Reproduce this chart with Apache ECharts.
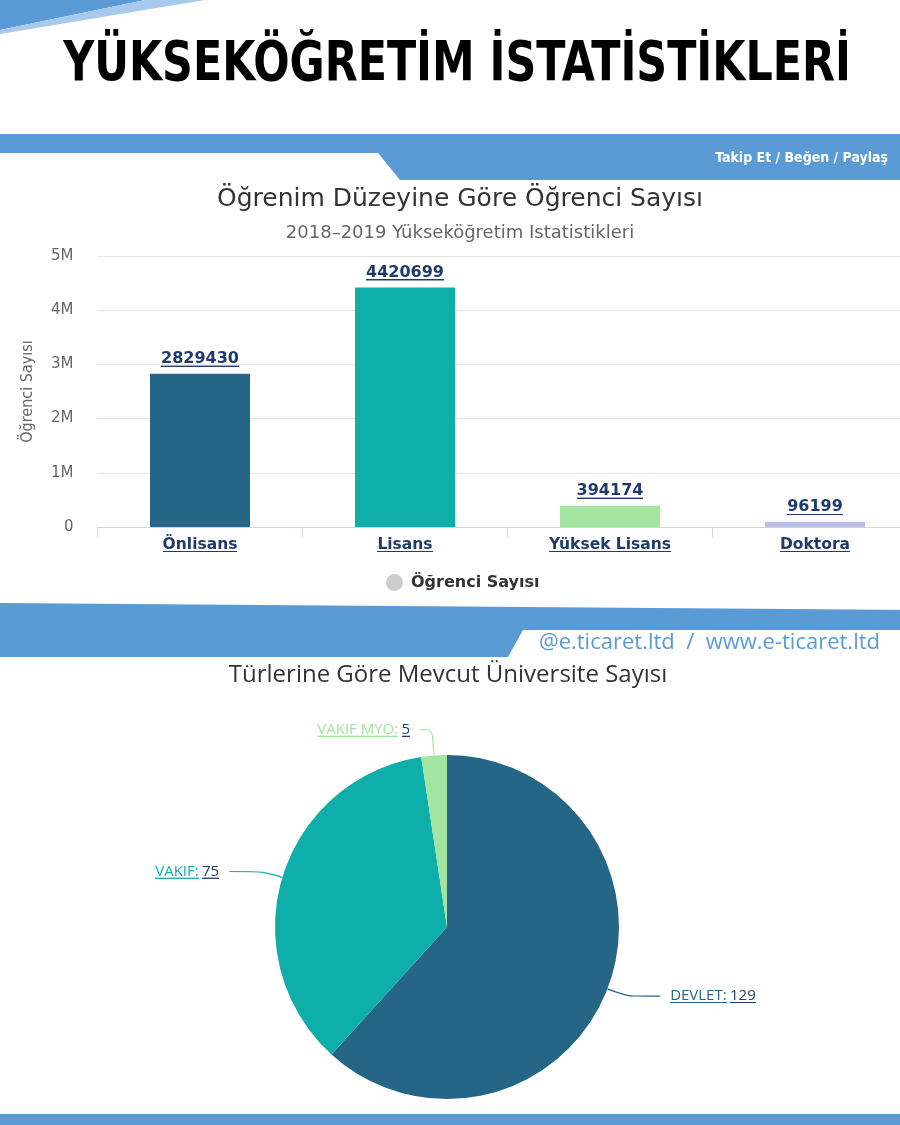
<!DOCTYPE html>
<html>
<head>
<meta charset="utf-8">
<script src="https://cdn.jsdelivr.net/npm/echarts@6/dist/echarts.min.js"></script>
<style>
html,body{margin:0;padding:0;background:#fff;overflow:hidden;width:900px;height:1125px;}
#wrap{width:900px;height:1125px;overflow:hidden;position:relative;}
#c{width:920px;height:1125px;position:absolute;left:0;top:0;}
</style>
</head>
<body>
<div id="wrap"><div id="c"></div></div>
<script>
// ---- data ----
const mainTitle = 'YÜKSEKÖĞRETİM İSTATİSTİKLERİ';
const barTitle = 'Öğrenim Düzeyine Göre Öğrenci Sayısı';
const barSubtitle = '2018–2019 Yükseköğretim Istatistikleri';
const barSeriesName = 'Öğrenci Sayısı';
const levels = ['Önlisans', 'Lisans', 'Yüksek Lisans', 'Doktora'];
const students = [2829430, 4420699, 394174, 96199];
const barColors = ['#256686', '#0eafaa', '#a3e4a0', '#bcbee8'];
const yTicks = [0, 1000000, 2000000, 3000000, 4000000, 5000000];
const yTickLabels = ['0', '1M', '2M', '3M', '4M', '5M'];

const pieTitle = 'Türlerine Göre Mevcut Üniversite Sayısı';
const uniTypes = ['DEVLET', 'VAKIF', 'VAKIF MYO'];
const uniCounts = [129, 75, 5];
const pieColors = ['#256686', '#0eafaa', '#a3e4a0'];

const followText = 'Takip Et / Beğen / Paylaş';
const siteText = '@e.ticaret.ltd  /  www.e-ticaret.ltd';

// ---- helpers ----
function underline(color) {
  const c = document.createElement('canvas');
  c.width = 4; c.height = 40;
  const ctx = c.getContext('2d');
  ctx.fillStyle = color;
  ctx.fillRect(0, 36, 4, 3);
  return c;
}
const navy = '#1f3a6b';
const ulNavy = underline(navy);

const chart = echarts.init(document.getElementById('c'), null, {renderer: 'canvas'});
const band = '#5b9bd5';
const W = 920;

const option = {
  backgroundColor: '#ffffff',
  animation: false,
  title: [
    {text: barTitle, left: 'center', top: 182,
     textStyle: {fontFamily: '"DejaVu Sans", sans-serif', fontWeight: 'normal', fontSize: 25, color: '#333'}},
    {text: barSubtitle, left: 'center', top: 219,
     textStyle: {fontFamily: '"DejaVu Sans", sans-serif', fontWeight: 'normal', fontSize: 18, color: '#666'}}
  ],
  graphic: [
    {type: 'polygon', shape: {points: [[0,0],[145,0],[0,30]]}, style: {fill: band}, z: 1},
    {type: 'polygon', shape: {points: [[145,0],[205,0],[0,34],[0,30]]}, style: {fill: '#a9c9ec'}, z: 1},
    {type: 'text', x: 457, y: 66, scaleX: 0.865, scaleY: 1, z: 2,
     style: {text: mainTitle, x: 0, y: 0, align: 'center', verticalAlign: 'middle', fill: '#000',
             font: 'bold 55px "DejaVu Sans Condensed", "DejaVu Sans", sans-serif'}},
    {type: 'polygon', shape: {points: [[0,134],[W,134],[W,180],[400,180],[378,153],[0,153]]}, style: {fill: band}, z: 1},
    {type: 'text', x: 888, y: 158, z: 2,
     style: {text: followText, x: 0, y: 0, align: 'right', verticalAlign: 'middle', fill: '#fff',
             font: 'bold 14px "DejaVu Sans Condensed", sans-serif'}},
    {type: 'polygon', shape: {points: [[0,603],[W,610],[W,630],[523,630],[508,657],[0,657]]}, style: {fill: band}, z: 1},
    {type: 'text', x: 880, y: 643, z: 2,
     style: {text: siteText, x: 0, y: 0, align: 'right', verticalAlign: 'middle', fill: band,
             font: '22px "Open Sans", sans-serif'}},
    {type: 'text', x: 448, y: 675, z: 2,
     style: {text: pieTitle, x: 0, y: 0, align: 'center', verticalAlign: 'middle', fill: '#333',
             font: '24px "Open Sans", sans-serif'}},
    {type: 'rect', shape: {x: 0, y: 1114, width: W, height: 11}, style: {fill: band}, z: 1}
  ],
  legend: {
    data: [barSeriesName], left: 381, top: 569, icon: 'circle', itemWidth: 17, itemHeight: 17, itemGap: 8,
    itemStyle: {color: '#cccccc'},
    textStyle: {fontFamily: '"DejaVu Sans", sans-serif', fontSize: 16, fontWeight: 'bold', color: '#333', padding: [0,0,0,3]}
  },
  grid: {left: 97.5, width: 820, top: 256, height: 271, containLabel: false},
  xAxis: {
    type: 'category', data: levels,
    axisLine: {lineStyle: {color: '#ccd6eb'}},
    axisTick: {show: true, length: 10, lineStyle: {color: '#ccd6eb'}},
    axisLabel: {
      margin: 8,
      formatter: v => '{u|' + v + '}',
      rich: {u: {fontFamily: '"DejaVu Sans", sans-serif', fontWeight: 'bold', fontSize: 15.5, color: navy,
                 lineHeight: 19, backgroundColor: {image: ulNavy}}}
    }
  },
  yAxis: {
    type: 'value', min: yTicks[0], max: yTicks[yTicks.length - 1], interval: yTicks[1] - yTicks[0],
    name: barSeriesName, nameLocation: 'middle', nameGap: 62, nameRotate: 90,
    nameTextStyle: {fontFamily: '"DejaVu Sans Condensed", sans-serif', fontSize: 16, color: '#666'},
    axisLine: {show: false}, axisTick: {show: false},
    splitLine: {lineStyle: {color: '#e6e6e6'}},
    axisLabel: {
      margin: 24,
      formatter: v => yTickLabels[yTicks.indexOf(v)],
      fontFamily: '"DejaVu Sans", sans-serif', fontSize: 15, color: '#666'
    }
  },
  series: [
    {
      type: 'bar', name: barSeriesName, barWidth: 100,
      data: students.map((v, i) => ({value: v, itemStyle: {color: barColors[i]}})),
      label: {
        show: true, position: 'top', distance: 5,
        formatter: p => '{u|' + p.value + '}',
        rich: {u: {fontFamily: '"DejaVu Sans", sans-serif', fontWeight: 'bold', fontSize: 16, color: navy,
                   lineHeight: 19, backgroundColor: {image: ulNavy}}}
      }
    },
    {
      type: 'pie', name: pieTitle, center: [447, 927], radius: 172, startAngle: 90, clockwise: true,
      data: uniTypes.map((n, i) => {
        const ul = underline(pieColors[i]);
        const item = {
          name: n, value: uniCounts[i], itemStyle: {color: pieColors[i]},
          label: {
            formatter: '{n|{b}:} {v|{c}}',
            rich: {
              n: {fontFamily: '"Open Sans", sans-serif', fontSize: 15, color: pieColors[i], lineHeight: 19,
                  backgroundColor: {image: ul}},
              v: {fontFamily: '"Open Sans", sans-serif', fontSize: 15, color: navy, lineHeight: 19,
                  backgroundColor: {image: ulNavy}}
            }
          }
        };
        if (i === 2) item.labelLine = {length: 26, length2: 12};
        return item;
      }),
      label: {show: true, position: 'outside', distanceToLabelLine: 10},
      labelLine: {show: true, length: 20, length2: 34, smooth: 0.3, lineStyle: {width: 1.2}},
      emphasis: {disabled: true}
    }
  ]
};
chart.setOption(option);
</script>
</body>
</html>
